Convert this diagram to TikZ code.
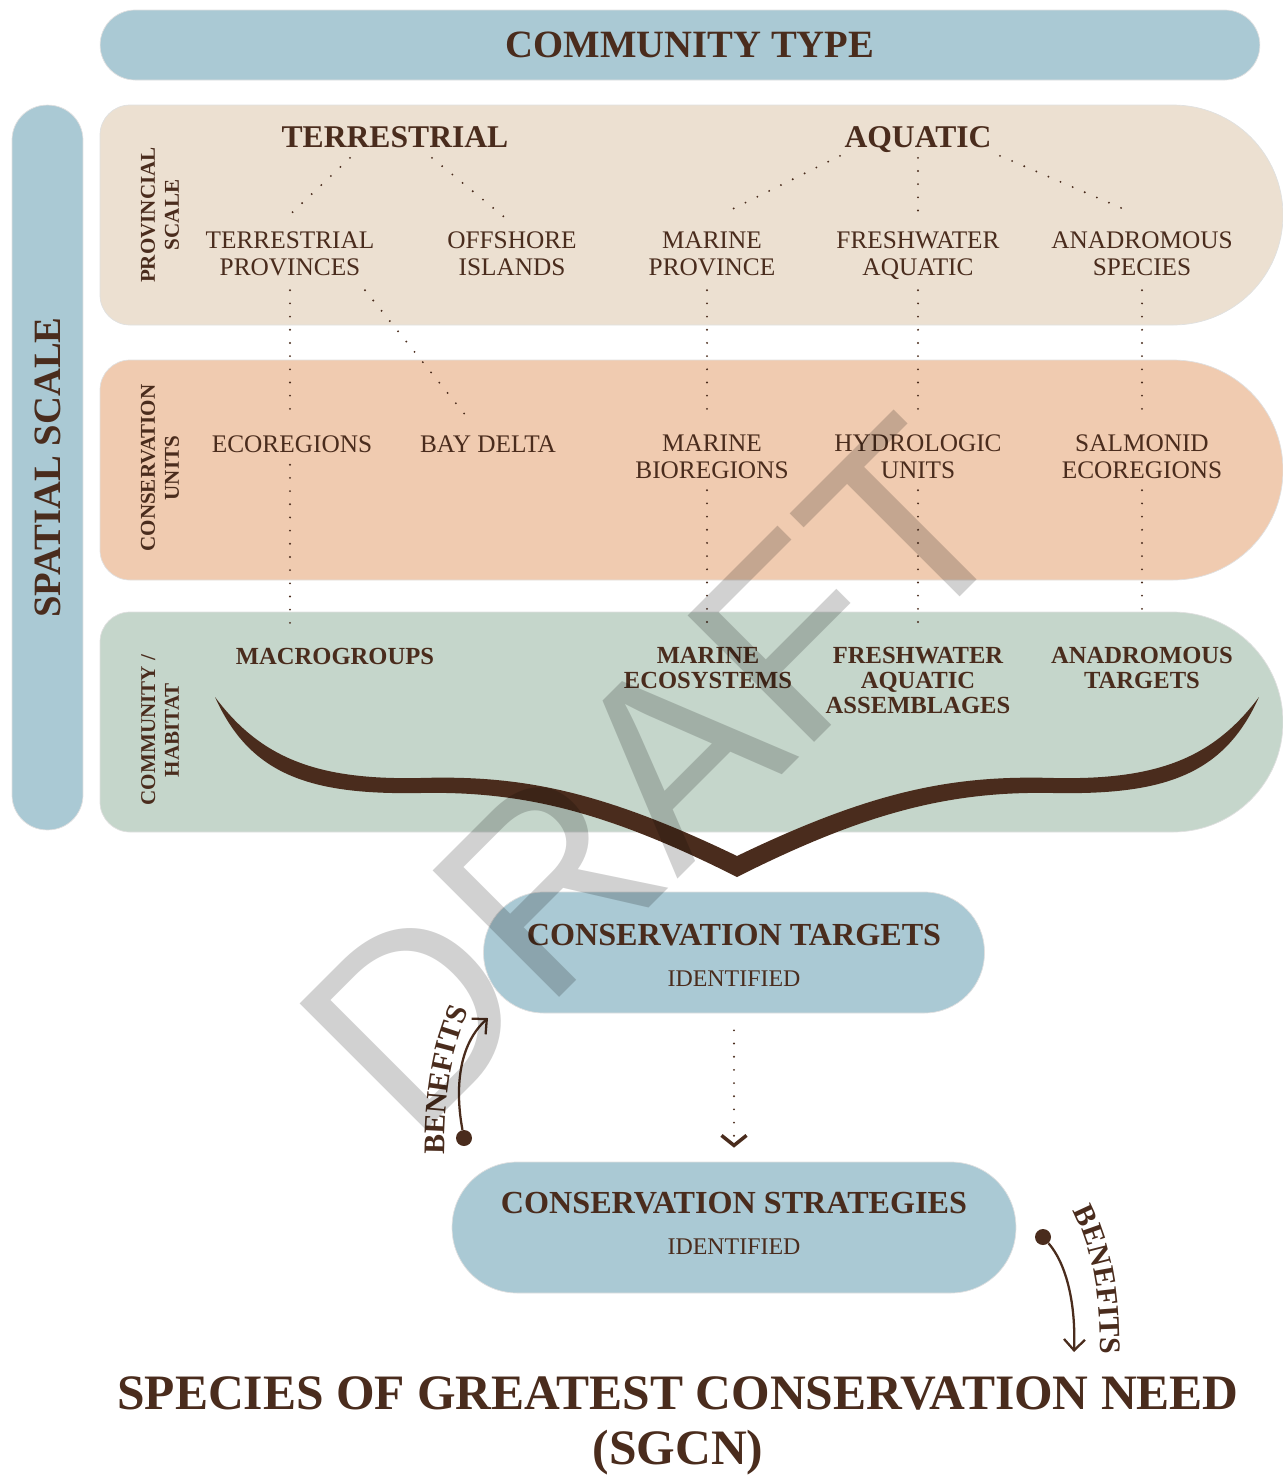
\documentclass[tikz,border=0pt]{standalone}
\usepackage{fontspec}
\setmainfont{Liberation Serif}
\newfontfamily\draftfont{Liberation Sans}
\usepackage{tikz}
\usetikzlibrary{arrows.meta, positioning, calc, decorations.text}

\definecolor{ink}{RGB}{74,44,29}
\definecolor{bandblue}{RGB}{170,201,212}
\definecolor{provtan}{RGB}{236,224,209}
\definecolor{consorange}{RGB}{240,203,176}
\definecolor{habgreen}{RGB}{197,214,203}

\begin{document}
\begin{tikzpicture}[x=0.02cm, y=-0.02cm,
  lbl/.style={font=\fontsize{14.4}{15.4}\selectfont, text=ink, align=center, inner sep=0pt, text depth=0pt},
  grp/.style={font=\fontsize{18}{20}\selectfont\bfseries, text=ink, inner sep=0pt, text depth=0pt},
  hab/.style={font=\fontsize{14}{14.2}\selectfont\bfseries, text=ink, align=center, inner sep=0pt, text depth=0pt},
  side/.style={font=\fontsize{12}{13.6}\selectfont\bfseries, text=ink, align=center, rotate=90, inner sep=0pt},
  pill/.style={fill=bandblue, draw=black!12},
  ttl/.style={font=\fontsize{18.3}{20}\selectfont\bfseries, text=ink, inner sep=0pt},
  sub/.style={font=\fontsize{13.6}{15}\selectfont, text=ink, inner sep=0pt},
  link/.style={ink, line width=1.2pt, line cap=round, dash pattern=on 0pt off 7.5pt},
  bene/.style={ink, line width=1.3pt, -{Straight Barb[length=2.2mm, width=4.2mm]}},
  bdot/.style={circle, fill=ink, inner sep=0pt, minimum size=0.32cm},
  bentext/.style={decorate, decoration={text along path, text align=center, text color=ink,
    text={|\fontsize{17}{17}\selectfont\bfseries|BENEFITS}}}]
  \useasboundingbox (0,0) rectangle (1283,1475);

  % bands
  \node[pill, rounded corners=0.7cm, minimum width=23.2cm, minimum height=1.4cm] (ctype) at (680,45) {};
  \node[font=\fontsize{22}{24}\selectfont\bfseries, text=ink] (ctypetxt) at (690,45) {COMMUNITY TYPE};
  \node[pill, rounded corners=0.7cm, minimum width=14.5cm, minimum height=1.42cm, rotate=90,
    font=\fontsize{22}{24}\selectfont\bfseries, text=ink] (spatial) at (47.5,467.5) {SPATIAL SCALE};
  \foreach \ry/\col in {105/provtan, 360/consorange, 612/habgreen}
    \fill[\col, draw=black!12] ({130},{\ry}) -- ({1173},{\ry})
      arc[start angle=-90, end angle=90, radius=110] -- ({130},{\ry+220})
      arc[start angle=90, end angle=180, radius=30] -- ({100},{\ry+30})
      arc[start angle=180, end angle=270, radius=30] -- cycle;

  \node[side] (provlbl) at (160,215) {PROVINCIAL\\SCALE};
  \node[side] (conslbl) at (160,468) {CONSERVATION\\UNITS};
  \node[side] (commlbl) at (160,730) {COMMUNITY /\\HABITAT};

  % provincial scale
  \node[grp] (terr) at (395,137) {TERRESTRIAL};
  \node[grp] (aqua) at (918,137) {AQUATIC};
  \node[lbl] (tprov) at (290,254) {TERRESTRIAL\\PROVINCES};
  \node[lbl] (offs) at (512,254) {OFFSHORE\\ISLANDS};
  \node[lbl] (mprov) at (712,254) {MARINE\\PROVINCE};
  \node[lbl] (fwaq) at (918,254) {FRESHWATER\\AQUATIC};
  \node[lbl] (anad) at (1142,254) {ANADROMOUS\\SPECIES};

  % conservation units
  \node[lbl] (ecor) at (292,444) {ECOREGIONS};
  \node[lbl] (bayd) at (488,444) {BAY DELTA};
  \node[lbl] (mbio) at (712,457) {MARINE\\BIOREGIONS};
  \node[lbl] (hydro) at (918,457) {HYDROLOGIC\\UNITS};
  \node[lbl] (salm) at (1142,457) {SALMONID\\ECOREGIONS};

  % community / habitat
  \node[hab] (macro) at (335,656) {MACROGROUPS};
  \node[hab] (meco) at (708,668) {MARINE\\ECOSYSTEMS};
  \node[hab] (fwaa) at (918,680) {FRESHWATER\\AQUATIC\\ASSEMBLAGES};
  \node[hab] (antg) at (1142,668) {ANADROMOUS\\TARGETS};

  \draw[link] ($(terr.south)+(-45,10)$) -- ($(tprov.north)+(2,-19)$);
  \draw[link] ($(terr.south)+(37,10)$) -- ($(offs.north)+(-2,-10)$);
  \draw[link] ($(aqua.south)+(-78,8)$) -- ($(mprov.north)+(13,-19)$);
  \draw[link] ($(aqua.south)+(0,10)$) -- ($(fwaq.north)+(0,-10)$);
  \draw[link] ($(aqua.south)+(82,8)$) -- ($(anad.north)+(-12,-20)$);
  \draw[link] ($(tprov.south)+(0,14)$) -- ($(ecor.north)+(-2,-15)$);
  \draw[link] ($(tprov.south)+(75,14)$) -- ($(bayd.north)+(-20,-17)$);
  \draw[link] ($(mprov.south)+(-5,14)$) -- ($(mbio.north)+(-5,-15)$);
  \draw[link] ($(fwaq.south)+(0,14)$) -- ($(hydro.north)+(0,-15)$);
  \draw[link] ($(anad.south)+(0,14)$) -- ($(salm.north)+(0,-15)$);
  \draw[link] ($(ecor.south)+(-2,12)$) -- ($(macro.north)+(-45,-19)$);
  \draw[link] ($(mbio.south)+(-5,11)$) -- ($(meco.north)+(-1,-12)$);
  \draw[link] ($(hydro.south)+(0,11)$) -- ($(fwaa.north)+(0,-17)$);
  \draw[link] ($(salm.south)+(0,11)$) -- ($(antg.north)+(0,-27)$);

  % brace
  \fill[ink] (215,697) .. controls (262,760) and (320,780) .. (420,778)
    .. controls (520,775) and (600,790) .. (737,856)
    .. controls (874,790) and (954,775) .. (1054,778)
    .. controls (1154,780) and (1212,760) .. (1259,697)
    .. controls (1224,775) and (1164,795) .. (1054,793)
    .. controls (954,791) and (870,810) .. (737,877)
    .. controls (604,810) and (520,791) .. (420,793)
    .. controls (310,795) and (250,775) .. (215,697) -- cycle;

  % targets and strategies
  \node[pill, rounded corners=1.2cm, minimum width=10.02cm, minimum height=2.42cm] (targets) at (734,952.5) {};
  \node[ttl] (targetsttl) at ([yshift=0.35cm]targets.center) {CONSERVATION TARGETS};
  \node[sub] (targetssub) at ([yshift=-0.53cm]targets.center) {IDENTIFIED};
  \node[pill, rounded corners=1.3cm, minimum width=11.28cm, minimum height=2.62cm] (strategies) at (734,1227.5) {};
  \node[ttl] (strategiesttl) at ([yshift=0.49cm]strategies.center) {CONSERVATION STRATEGIES};
  \node[sub] (strategiessub) at ([yshift=-0.39cm]strategies.center) {IDENTIFIED};
  \draw[link, -{Straight Barb[length=2mm, width=5mm, line width=2pt]}, shorten <=0.34cm, shorten >=0.28cm]
    (targets) -- (strategies);

  % benefits
  \node[bdot] (bdot1) at (464,1138) {};
  \coordinate (btip1) at (488,1018);
  \draw[bene] (bdot1) .. controls (455,1090) and (458,1045) .. (btip1);
  \path[bentext] (444,1166) .. controls (444,1090) and (451,1048) .. (474,1000);
  \node[bdot] (bdot2) at (1043,1237) {};
  \coordinate (btip2) at (1074,1352);
  \draw[bene] (bdot2) .. controls (1065,1262) and (1076,1300) .. (btip2);
  \path[bentext] (1070,1206) .. controls (1092,1245) and (1102,1295) .. (1100,1360);

  \node[font=\fontsize{28.2}{31}\selectfont\bfseries, text=ink, align=center, inner sep=0pt] (sgcn) at (678,1426)
    {SPECIES OF GREATEST CONSERVATION NEED\\(SGCN)};

  % watermark
  \node[font=\draftfont\fontsize{148}{148}\selectfont, text=black, text opacity=0.18, rotate=45, anchor=base]
    (draft) at (718,839) {DRAFT};
\end{tikzpicture}
\end{document}
